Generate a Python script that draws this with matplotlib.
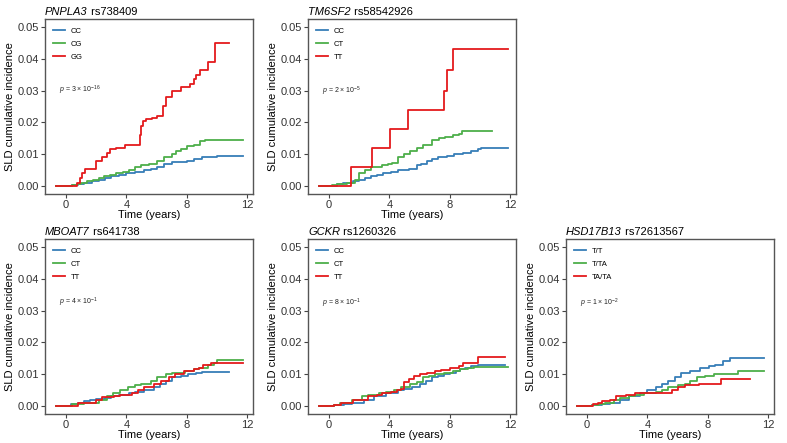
import numpy as np
import matplotlib
matplotlib.use('Agg')
import matplotlib.pyplot as plt

plt.rcParams['font.family'] = ['Liberation Sans', 'DejaVu Sans']
plt.rcParams['mathtext.fontset'] = 'custom'
plt.rcParams['mathtext.rm'] = 'Liberation Sans'
plt.rcParams['mathtext.it'] = 'Liberation Sans:italic'

BLUE = '#377eb8'
GREEN = '#4daf4a'
RED = '#e41a1c'

##### PNPLA3 rs738409
pnpla3_cc_t = [-0.7, 0.4, 0.8, 1.2, 1.7, 2.2, 2.6, 3.0, 3.5, 4.0, 4.6, 5.2, 5.6, 6.0, 6.5, 7.0, 7.5, 8.0, 8.5, 9.0, 9.5, 10.0, 11.75]
pnpla3_cc_y = [0, 0.0003, 0.0006, 0.001, 0.0015, 0.002, 0.0025, 0.003, 0.0035, 0.004, 0.0045, 0.005, 0.0055, 0.006, 0.007,
               0.0075, 0.0077, 0.008, 0.0085, 0.009, 0.0092, 0.0095, 0.0095]
pnpla3_cg_t = [-0.7, 0.4, 0.7, 1.0, 1.4, 1.8, 2.2, 2.5, 2.9, 3.3, 3.8, 4.2, 4.6, 5.0, 5.5, 6.0, 6.5, 7.0, 7.3, 7.6, 8.0,
               8.5, 8.9, 9.2, 11.75]
pnpla3_cg_y = [0, 0.0003, 0.0006, 0.001, 0.0015, 0.002, 0.0025, 0.003, 0.0035, 0.004, 0.0045, 0.005, 0.006, 0.0065, 0.007,
               0.008, 0.009, 0.010, 0.011, 0.0115, 0.0125, 0.013, 0.014, 0.0145, 0.0145]
pnpla3_gg_t = [-0.7, 0.7, 0.9, 1.05, 1.27, 2.0, 2.4, 2.7, 2.9, 3.3, 3.9, 4.9, 5.0, 5.1, 5.3,
               5.7, 6.0, 6.4, 6.6, 7.0, 7.6, 8.2, 8.5, 8.6, 8.9, 9.4, 9.9, 10.8]
pnpla3_gg_y = [0, 0.001, 0.0025, 0.004, 0.0052, 0.0078, 0.009, 0.0105, 0.0115, 0.012, 0.013, 0.016, 0.019, 0.0205, 0.021,
               0.0215, 0.022, 0.025, 0.028, 0.030, 0.031, 0.032, 0.0335, 0.035, 0.0365, 0.039, 0.045, 0.045]

##### TM6SF2 rs58542926
tm6sf2_cc_t = [-0.67, 0.5, 0.9, 1.3, 1.6, 2.0, 2.4, 2.8, 3.2, 3.6, 4.1, 4.6, 5.3, 5.8, 6.1, 6.5, 6.8, 7.2, 7.8, 8.3, 8.9,
               9.4, 9.9, 10.1, 11.85]
tm6sf2_cc_y = [0, 0.0005, 0.0008, 0.001, 0.0015, 0.002, 0.0025, 0.003, 0.0035, 0.004, 0.0045, 0.005, 0.0055, 0.0065, 0.007,
               0.008, 0.0085, 0.009, 0.0095, 0.010, 0.0105, 0.011, 0.0115, 0.012, 0.012]
tm6sf2_ct_t = [-0.67, 0.2, 0.5, 1.2, 1.7, 2.0, 2.4, 2.8, 3.5, 3.9, 4.2, 4.6, 5.0, 5.4, 5.8, 6.2, 6.8,
               7.3, 7.7, 8.2, 8.6, 8.8, 10.84]
tm6sf2_ct_y = [0, 0.0003, 0.0005, 0.001, 0.002, 0.004, 0.005, 0.006, 0.0065, 0.007, 0.0072, 0.009, 0.010, 0.011, 0.012, 0.013, 0.0145,
               0.015, 0.0155, 0.016, 0.0165, 0.0173, 0.0173]
tm6sf2_tt_t = [-0.67, 1.45, 2.85, 4.07, 5.25, 7.64, 7.82, 8.2, 11.85]
tm6sf2_tt_y = [0, 0.006, 0.012, 0.018, 0.024, 0.030, 0.0365, 0.043, 0.043]

##### MBOAT7 rs641738
mboat7_cc_t = [-0.7, 0.3, 0.8, 1.2, 1.6, 2.0, 2.6, 3.0, 3.5, 4.2, 4.6, 5.2, 5.8, 6.2, 6.6, 7.0, 7.6, 8.1, 8.6, 9.0, 10.8]
mboat7_cc_y = [0, 0.0005, 0.001, 0.0015, 0.002, 0.0023, 0.0025, 0.003, 0.0035, 0.004, 0.0045, 0.005, 0.006, 0.007, 0.008, 0.009,
               0.0095, 0.010, 0.0105, 0.0108, 0.0108]
mboat7_ct_t = [-0.7, 0.4, 1.2, 2.2, 2.7, 3.1, 3.6, 4.1, 4.6, 5.0, 5.6, 6.0, 6.6, 7.0, 7.9, 8.5, 8.8, 9.4, 9.8, 10.0, 11.75]
mboat7_ct_y = [0, 0.0005, 0.001, 0.002, 0.003, 0.004, 0.005, 0.006, 0.0065, 0.007, 0.008, 0.009, 0.010, 0.0103, 0.011, 0.0115,
               0.012, 0.013, 0.0135, 0.0145, 0.0145]
mboat7_tt_t = [-0.7, 0.8, 2.0, 2.4, 3.2, 3.6, 4.4, 4.8, 5.2, 5.8, 6.3, 6.8, 7.2, 7.8, 8.5, 8.8, 9.1, 9.6, 11.75]
mboat7_tt_y = [0, 0.001, 0.002, 0.0028, 0.003, 0.0035, 0.004, 0.005, 0.006, 0.007, 0.008, 0.009, 0.010, 0.011, 0.0115, 0.012,
               0.013, 0.0135, 0.0135]

##### GCKR rs1260326
gckr_cc_t = [-0.67, 0.3, 1.0, 1.5, 2.3, 3.0, 3.8, 4.6, 5.0, 5.5, 6.0, 6.4, 6.8, 7.2, 7.6, 8.0, 8.4, 8.7, 9.0, 9.4, 9.9, 11.7]
gckr_cc_y = [0, 0.0002, 0.0005, 0.001, 0.002, 0.003, 0.004, 0.005, 0.0055, 0.006, 0.007, 0.008, 0.009, 0.0095, 0.010, 0.0105,
             0.011, 0.0115, 0.012, 0.0125, 0.013, 0.013]
gckr_ct_t = [-0.67, 0.3, 0.7, 1.5, 2.2, 2.6, 3.3, 3.8, 4.3, 4.8, 5.4, 5.8, 6.2, 6.6, 7.0, 7.6, 8.2, 8.7, 9.2, 9.6, 11.85]
gckr_ct_y = [0, 0.0003, 0.001, 0.002, 0.003, 0.0035, 0.004, 0.0045, 0.005, 0.006, 0.007, 0.0075, 0.009, 0.0095, 0.010, 0.0105,
             0.011, 0.0115, 0.012, 0.0122, 0.0122]
gckr_tt_t = [-0.67, 0.3, 0.8, 1.6, 2.6, 3.2, 3.5, 4.1, 4.5, 4.8, 5.0, 5.3, 5.6, 6.0, 6.5, 7.0, 7.4, 8.0, 8.6, 8.9, 9.9, 11.7]
gckr_tt_y = [0, 0.0003, 0.001, 0.002, 0.003, 0.0035, 0.004, 0.0045, 0.005, 0.0055, 0.0075, 0.0085, 0.0095, 0.010, 0.0105, 0.011,
             0.0112, 0.012, 0.0125, 0.0135, 0.0155, 0.0155]

##### HSD17B13 rs72613567
hsd_tt_t = [-0.7, 0.3, 1.0, 1.5, 2.2, 2.8, 3.5, 4.0, 4.6, 5.0, 5.4, 5.8, 6.2, 6.8, 7.5, 8.1, 8.5, 9.0, 9.5, 10.0, 11.75]
hsd_tt_y = [0, 0.0002, 0.0005, 0.001, 0.002, 0.003, 0.004, 0.005, 0.006, 0.007, 0.008, 0.009, 0.0105, 0.011, 0.012, 0.0125,
            0.013, 0.014, 0.015, 0.0152, 0.0152]
hsd_tta_t = [-0.7, 0.3, 0.8, 1.2, 1.8, 2.2, 2.8, 3.2, 3.8, 4.6, 5.0, 5.4, 6.0, 6.5, 6.8, 7.3, 7.8, 8.4, 10.0, 11.75]
hsd_tta_y = [0, 0.0003, 0.0005, 0.001, 0.002, 0.0025, 0.003, 0.0035, 0.004, 0.0045, 0.005, 0.006, 0.0065, 0.007, 0.008, 0.009,
             0.0095, 0.010, 0.011, 0.011]
hsd_tata_t = [-0.7, 0.4, 0.7, 1.0, 1.5, 1.9, 2.6, 3.2, 5.6, 6.0, 6.5, 7.4, 8.9, 10.8]
hsd_tata_y = [0, 0.0005, 0.001, 0.0015, 0.002, 0.003, 0.0035, 0.004, 0.005, 0.006, 0.0065, 0.007, 0.0085, 0.0085]

panels = [
    # gene, snp, labels, series, p mantissa, p exponent, (left, top) px, p text height
    ('PNPLA3', 'rs738409', ['CC', 'CG', 'GG'],
     [(pnpla3_cc_t, pnpla3_cc_y), (pnpla3_cg_t, pnpla3_cg_y), (pnpla3_gg_t, pnpla3_gg_y)],
     '3', '-16', (45, 19), 0.59),
    ('TM6SF2', 'rs58542926', ['CC', 'CT', 'TT'],
     [(tm6sf2_cc_t, tm6sf2_cc_y), (tm6sf2_ct_t, tm6sf2_ct_y), (tm6sf2_tt_t, tm6sf2_tt_y)],
     '2', '-5', (308, 19), 0.585),
    ('MBOAT7', 'rs641738', ['CC', 'CT', 'TT'],
     [(mboat7_cc_t, mboat7_cc_y), (mboat7_ct_t, mboat7_ct_y), (mboat7_tt_t, mboat7_tt_y)],
     '4', '-1', (45, 239), 0.64),
    ('GCKR', 'rs1260326', ['CC', 'CT', 'TT'],
     [(gckr_cc_t, gckr_cc_y), (gckr_ct_t, gckr_ct_y), (gckr_tt_t, gckr_tt_y)],
     '8', '-1', (308, 239), 0.635),
    ('HSD17B13', 'rs72613567', ['T/T', 'T/TA', 'TA/TA'],
     [(hsd_tt_t, hsd_tt_y), (hsd_tta_t, hsd_tta_y), (hsd_tata_t, hsd_tata_y)],
     '1', '-2', (566, 239), 0.635),
]

W, H = 787, 443
fig = plt.figure(figsize=(W / 100, H / 100), dpi=100)
colors = [BLUE, GREEN, RED]

for gene, snp, labels, series, pm, pe, (lx, ty), py in panels:
    ax = fig.add_axes([lx / W, 1 - (ty + 175) / H, 208 / W, 175 / H])
    for (t, y), c, lab in zip(series, colors, labels):
        ax.plot(t, y, drawstyle='steps-post', color=c, lw=1.3, label=lab)
    ax.set_xlim(-1.4, 12.4)
    ax.set_ylim(-0.0025, 0.0525)
    ax.set_xticks([0, 4, 8, 12])
    ax.set_yticks([0, 0.01, 0.02, 0.03, 0.04, 0.05])
    ax.set_yticklabels(['0.00', '0.01', '0.02', '0.03', '0.04', '0.05'])
    ax.tick_params(labelsize=8, colors='#444444', labelcolor='#333333', length=3, width=0.8, pad=1)
    for s in ax.spines.values():
        s.set_color('#555555')
        s.set_linewidth(1.0)
    ax.set_xlabel('Time (years)', fontsize=8, labelpad=0)
    ax.set_ylabel('SLD cumulative incidence', fontsize=8, labelpad=2)
    # title: italic gene + plain rs id
    t1 = ax.text(0.0, 1.025, gene, transform=ax.transAxes, fontsize=8, style='italic',
                 ha='left', va='baseline')
    ax.annotate(' ' + snp, xy=(1, 0), xycoords=t1, fontsize=8, ha='left', va='bottom')
    ax.legend(loc='upper left', frameon=False, fontsize=5.5, handlelength=1.5,
              bbox_to_anchor=(0.025, 0.968), borderaxespad=0, labelspacing=0.75)
    ax.text(0.065, py, r'$p$ = ' + pm + r' × 10$^{' + pe + '}$', transform=ax.transAxes,
            fontsize=5, color='#222222', va='center')

fig.savefig('out.png', dpi=100)
